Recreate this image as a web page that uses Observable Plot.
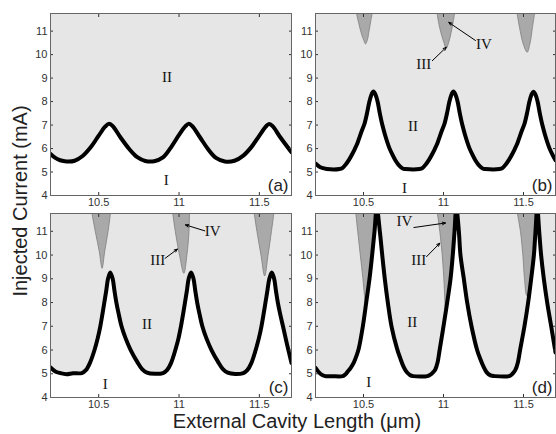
<!DOCTYPE html>
<html><head><meta charset="utf-8">
<script src="https://cdn.jsdelivr.net/npm/d3@7"></script>
<script src="https://cdn.jsdelivr.net/npm/@observablehq/plot@0.6"></script>
<style>
body{margin:0;background:#fff;}
#wrap{position:relative;width:556px;height:434px;overflow:hidden;background:#fff;font-family:"Liberation Sans",Arial,sans-serif;color:#222;}
.panel{position:absolute;}
#ylab{position:absolute;left:20px;top:201px;transform:translate(-50%,-50%) rotate(-90deg);font-size:20px;white-space:nowrap;}
#xlab{position:absolute;left:297px;top:410px;transform:translateX(-50%);font-size:20px;white-space:nowrap;}
</style></head>
<body><div id="wrap">
<div id="ylab">Injected Current (mA)</div>
<div id="xlab">External Cavity Length (μm)</div>
</div>
<script>
const xDomain = [10.2, 11.7];
const yDomain = [4, 11.75];
const xTicks = [10.5, 11, 11.5];
const yTicks = [4, 5, 6, 7, 8, 9, 10, 11];

// Panel (a) boundary curve
const aX = [10.2, 10.23, 10.26, 10.3, 10.35, 10.4, 10.45, 10.5, 10.54, 10.562, 10.585, 10.635, 10.69, 10.74, 10.79, 10.845, 10.9, 10.95, 11.0, 11.04, 11.058, 11.08, 11.13, 11.18, 11.23, 11.285, 11.345, 11.4, 11.45, 11.5, 11.54, 11.558, 11.58, 11.63, 11.7];
const aY = [5.77, 5.6, 5.5, 5.45, 5.48, 5.68, 6.05, 6.55, 6.93, 7.05, 6.97, 6.48, 5.98, 5.63, 5.47, 5.46, 5.62, 6.05, 6.58, 6.95, 7.05, 6.97, 6.48, 5.98, 5.6, 5.45, 5.48, 5.7, 6.06, 6.55, 6.93, 7.04, 6.97, 6.48, 5.84];

// Panel (b)
const bX = [10.2, 10.23, 10.27, 10.35, 10.37, 10.39, 10.41, 10.43, 10.447, 10.462, 10.476, 10.49, 10.506, 10.522, 10.537, 10.55, 10.562, 10.575, 10.588, 10.602, 10.618, 10.638, 10.66, 10.68, 10.70, 10.722, 10.745, 10.76, 10.85, 10.87, 10.89, 10.91, 10.93, 10.947, 10.962, 10.976, 10.99, 11.006, 11.022, 11.037, 11.05, 11.062, 11.075, 11.088, 11.102, 11.118, 11.138, 11.16, 11.18, 11.20, 11.222, 11.245, 11.26, 11.35, 11.37, 11.39, 11.41, 11.43, 11.447, 11.462, 11.476, 11.49, 11.506, 11.522, 11.537, 11.55, 11.562, 11.575, 11.588, 11.602, 11.618, 11.638, 11.66, 11.68, 11.7];
const bY = [5.36, 5.2, 5.13, 5.13, 5.18, 5.33, 5.53, 5.77, 6.0, 6.22, 6.5, 6.77, 7.05, 7.5, 8.0, 8.3, 8.43, 8.3, 8.0, 7.5, 7.0, 6.5, 6.05, 5.75, 5.49, 5.28, 5.15, 5.13, 5.13, 5.18, 5.33, 5.53, 5.77, 6.0, 6.22, 6.5, 6.77, 7.05, 7.5, 8.0, 8.3, 8.43, 8.3, 8.0, 7.5, 7.0, 6.5, 6.05, 5.75, 5.49, 5.28, 5.15, 5.13, 5.13, 5.18, 5.33, 5.53, 5.77, 6.0, 6.22, 6.5, 6.77, 7.05, 7.5, 8.0, 8.3, 8.42, 8.3, 8.0, 7.5, 7.0, 6.5, 6.05, 5.75, 5.5];
const bDropId = [1,1,1,1,1,1,1,1,1, 2,2,2,2,2,2,2,2,2, 3,3,3,3,3,3,3];
const bDropX = [10.456, 10.471, 10.4875, 10.502, 10.5125, 10.523, 10.535, 10.546, 10.554, 10.96, 10.971, 10.986, 11.002, 11.017, 11.033, 11.048, 11.06, 11.069, 11.46, 11.475, 11.498, 11.523, 11.54, 11.556, 11.569];
const bDropY = [11.75, 11.31, 10.88, 10.6, 10.455, 10.6, 11.02, 11.45, 11.75, 11.75, 11.31, 10.88, 10.53, 10.27, 10.53, 10.95, 11.38, 11.75, 11.75, 11.16, 10.46, 10.1, 10.46, 11.16, 11.75];

// Panel (c)
const cX = [10.2, 10.23, 10.26, 10.3, 10.34, 10.395, 10.42, 10.445, 10.474, 10.494, 10.51, 10.523, 10.535, 10.547, 10.558, 10.572, 10.587, 10.598, 10.61, 10.625, 10.642, 10.667, 10.699, 10.74, 10.77, 10.8, 10.85, 10.9, 10.925, 10.95, 10.977, 10.997, 11.012, 11.025, 11.037, 11.049, 11.06, 11.075, 11.09, 11.101, 11.113, 11.128, 11.145, 11.17, 11.202, 11.243, 11.273, 11.303, 11.35, 11.4, 11.425, 11.45, 11.477, 11.497, 11.513, 11.526, 11.538, 11.55, 11.562, 11.577, 11.592, 11.603, 11.615, 11.63, 11.647, 11.67, 11.7];
const cY = [5.27, 5.1, 5.03, 4.98, 5.02, 5.03, 5.15, 5.45, 6.0, 6.5, 7.0, 7.5, 8.0, 8.5, 9.0, 9.27, 9.0, 8.5, 8.0, 7.5, 7.0, 6.5, 6.0, 5.5, 5.2, 5.05, 5.0, 5.03, 5.15, 5.45, 6.0, 6.5, 7.0, 7.5, 8.0, 8.5, 9.0, 9.27, 9.0, 8.5, 8.0, 7.5, 7.0, 6.5, 6.0, 5.5, 5.2, 5.05, 4.99, 5.03, 5.15, 5.45, 6.0, 6.5, 7.0, 7.5, 8.0, 8.5, 9.0, 9.26, 9.0, 8.5, 8.0, 7.5, 7.0, 6.3, 5.45];
const cDropId = [1,1,1,1,1,1,1, 2,2,2,2,2,2,2, 3,3,3,3,3,3,3];
const cDropX = [10.458, 10.479, 10.504, 10.521, 10.537, 10.558, 10.573, 10.961, 10.977, 11.003, 11.03, 11.049, 11.062, 11.065, 11.468, 11.485, 11.51, 11.533, 11.554, 11.575, 11.59];
const cDropY = [11.75, 10.99, 10.14, 9.44, 10.14, 10.99, 11.75, 11.75, 10.99, 10.0, 9.23, 10.0, 10.99, 11.75, 11.75, 10.99, 10.0, 9.12, 10.0, 10.99, 11.75];

// Panel (d)
const dX = [10.2, 10.23, 10.26, 10.3, 10.37, 10.386, 10.4, 10.42, 10.44, 10.456, 10.47, 10.496, 10.517, 10.5375, 10.554, 10.569, 10.583, 10.602, 10.617, 10.633, 10.652, 10.675, 10.71, 10.73, 10.75, 10.77, 10.79, 10.81, 10.9, 10.918, 10.933, 10.948, 10.962, 10.977, 11.0, 11.023, 11.044, 11.058, 11.069, 11.08, 11.096, 11.106, 11.127, 11.148, 11.175, 11.21, 11.23, 11.25, 11.27, 11.294, 11.32, 11.41, 11.425, 11.438, 11.45, 11.464, 11.48, 11.506, 11.529, 11.548, 11.565, 11.575, 11.586, 11.598, 11.61, 11.627, 11.648, 11.673, 11.7];
const dY = [5.25, 5.0, 4.9, 4.9, 4.9, 4.97, 5.08, 5.25, 5.48, 5.75, 6.05, 7.0, 8.0, 9.0, 10.0, 11.0, 12.0, 11.0, 10.0, 9.0, 8.0, 7.0, 6.05, 5.65, 5.3, 5.07, 4.95, 4.9, 4.9, 4.96, 5.05, 5.17, 5.45, 6.05, 7.0, 8.0, 9.0, 10.0, 11.0, 12.0, 11.0, 10.0, 9.0, 8.0, 7.0, 6.0, 5.62, 5.3, 5.06, 4.93, 4.9, 4.9, 4.96, 5.05, 5.17, 5.45, 6.05, 7.0, 8.0, 9.0, 10.0, 11.0, 12.0, 11.0, 10.0, 9.0, 8.0, 7.0, 5.9];
const dDropId = [1,1,1,1,1,1,1,1,1,1, 2,2,2,2,2,2,2,2,2,2,2, 3,3,3,3,3,3,3,3,3];
const dDropX = [10.452, 10.464, 10.48, 10.496, 10.506, 10.5125, 10.5375, 10.554, 10.569, 10.58, 10.962, 10.977, 10.992, 11.002, 11.008, 11.0125, 11.023, 11.044, 11.058, 11.069, 11.077, 11.462, 11.481, 11.496, 11.506, 11.52, 11.548, 11.565, 11.575, 11.583];
const dDropY = [11.75, 10.99, 10.0, 9.02, 8.3, 7.95, 9.0, 10.0, 11.0, 11.75, 11.75, 10.99, 10.0, 9.02, 8.17, 7.7, 8.0, 9.0, 10.0, 11.0, 11.75, 11.75, 10.99, 10.0, 9.02, 8.3, 9.0, 10.0, 11.0, 11.75];

// Region labels
const aLabText = ["II", "I"], aLabX = [10.925, 10.92], aLabY = [9.02, 4.64];
const bLabText = ["II", "I", "III", "IV"], bLabX = [10.81, 10.756, 10.877, 11.252], bLabY = [6.94, 4.3, 9.6, 10.455];
const cLabText = ["II", "I", "III", "IV"], cLabX = [10.80, 10.54, 10.867, 11.21], cLabY = [7.07, 4.57, 9.79, 10.99];
const dLabText = ["II", "I", "III", "IV"], dLabX = [10.804, 10.533, 10.846, 10.756], dLabY = [7.18, 4.64, 9.79, 11.42];

// Annotation arrows (from label to region)
const bArrX1 = [10.93, 11.2], bArrY1 = [9.74, 10.6], bArrX2 = [11.017, 11.033], bArrY2 = [10.31, 11.37];
const cArrX1 = [10.913, 11.16], cArrY1 = [9.86, 11.02], cArrX2 = [10.99, 11.04], cArrY2 = [10.25, 11.27];
const dArrX1 = [10.894, 10.815], dArrY1 = [9.93, 11.16], dArrX2 = [10.977, 11.0125], dArrY2 = [10.5, 11.35];

const panelLetters = ["(a)", "(b)", "(c)", "(d)"];

function makePanel(p) {
  const curve = p.cx.map((x, i) => ({x, y: p.cy[i]}));
  const drops = (p.dId || []).map((id, i) => ({id, x: p.dX[i], y: p.dY[i]}));
  const labs = p.lt.map((t, i) => ({t, x: p.lx[i], y: p.ly[i]}));
  const arrs = (p.ax1 || []).map((x1, i) => ({x1, y1: p.ay1[i], x2: p.ax2[i], y2: p.ay2[i]}));
  return Plot.plot({
    width: p.w, height: p.h,
    marginLeft: p.ml, marginRight: p.mr, marginTop: p.mt, marginBottom: p.mb,
    style: {fontFamily: "Liberation Sans, Arial, sans-serif", background: "transparent", overflow: "visible"},
    x: {domain: xDomain, label: null},
    y: {domain: yDomain, label: null},
    marks: [
      Plot.frame({fill: "#e6e6e6"}),
      Plot.areaY(curve, {x: "x", y: "y", fill: "white", curve: "catmull-rom", clip: true}),
      Plot.line(drops, {x: "x", y: "y", z: "id", fill: "#a9a9a9", stroke: "#7d7d7d", strokeWidth: 0.8, curve: "catmull-rom", clip: true}),
      Plot.line(curve, {x: "x", y: "y", stroke: "black", strokeWidth: 4, curve: "catmull-rom", clip: true}),
      Plot.text(labs, {x: "x", y: "y", text: "t", fontFamily: "Liberation Serif, serif", fontSize: 15, fill: "#111", style: "letter-spacing:-1px"}),
      Plot.arrow(arrs, {x1: "x1", y1: "y1", x2: "x2", y2: "y2", stroke: "black", strokeWidth: 1, headLength: 5, headAngle: 45}),
      Plot.text([p.letter], {text: d => d, frameAnchor: "bottom-right", textAnchor: "end", lineAnchor: "middle", dx: -3, dy: -10, fontSize: 17, fill: "#222"}),
      Plot.axisX(xTicks, {anchor: "bottom", tickSize: -3, tickPadding: 6, fontSize: 11, color: "#333", label: null, tickFormat: d => String(d)}),
      Plot.axisX(xTicks, {anchor: "top", tickSize: -3, tickFormat: () => "", color: "#333", label: null}),
      Plot.axisY(yTicks, {anchor: "left", tickSize: -3, tickPadding: 6, fontSize: 11, color: "#333", label: null, tickFormat: d => String(d)}),
      Plot.axisY(yTicks, {anchor: "right", tickSize: -3, tickFormat: () => "", color: "#333", label: null}),
      Plot.frame({stroke: "#666"})
    ]
  });
}

const wrap = document.getElementById("wrap");
const specs = [
  {left: 0, top: 0, w: 295, h: 212, ml: 50, mr: 4, mt: 13, mb: 17, cx: aX, cy: aY, lt: aLabText, lx: aLabX, ly: aLabY, letter: panelLetters[0]},
  {left: 295, top: 0, w: 261, h: 212, ml: 20, mr: 1, mt: 13, mb: 17, cx: bX, cy: bY, dId: bDropId, dX: bDropX, dY: bDropY, lt: bLabText, lx: bLabX, ly: bLabY, ax1: bArrX1, ay1: bArrY1, ax2: bArrX2, ay2: bArrY2, letter: panelLetters[1]},
  {left: 0, top: 212, w: 295, h: 210, ml: 50, mr: 4, mt: 1, mb: 25, cx: cX, cy: cY, dId: cDropId, dX: cDropX, dY: cDropY, lt: cLabText, lx: cLabX, ly: cLabY, ax1: cArrX1, ay1: cArrY1, ax2: cArrX2, ay2: cArrY2, letter: panelLetters[2]},
  {left: 295, top: 212, w: 261, h: 210, ml: 20, mr: 1, mt: 1, mb: 25, cx: dX, cy: dY, dId: dDropId, dX: dDropX, dY: dDropY, lt: dLabText, lx: dLabX, ly: dLabY, ax1: dArrX1, ay1: dArrY1, ax2: dArrX2, ay2: dArrY2, letter: panelLetters[3]}
];
for (const s of specs) {
  const div = document.createElement("div");
  div.className = "panel";
  div.style.left = s.left + "px";
  div.style.top = s.top + "px";
  div.appendChild(makePanel(s));
  wrap.appendChild(div);
}
</script>
</body></html>
